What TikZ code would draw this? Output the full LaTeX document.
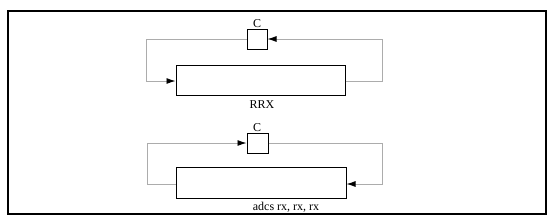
\documentclass[tikz,border=0pt]{standalone}
\usepackage{fontspec}
\setmainfont{Liberation Serif}
\usetikzlibrary{arrows.meta}
\begin{document}
\begin{tikzpicture}[x=1pt,y=-1pt,
  blk/.style={draw=black,line width=1pt},
  wire/.style={draw=gray!65,line width=0.9pt},
  arr/.style={-{Latex[length=9pt,width=6pt,black]}},
  lbl/.style={font=\fontsize{12}{12}\selectfont,inner sep=0pt}]
\useasboundingbox (0,0) rectangle (556,223);
\draw[line width=1.3pt] (8,11) rectangle (546,214);
% top
\node[blk,minimum width=169pt,minimum height=30pt,inner sep=0pt] (A) at (260.5,80) {};
\node[blk,minimum width=20pt,minimum height=20pt,inner sep=0pt] (C1) at (257,39) {};
\node[lbl,anchor=south] (lc1) at (257,28) {C};
\node[lbl,anchor=north] (lrrx) at (262,100) {RRX};
\coordinate (a1) at (382,81);
\coordinate (a2) at (382,39);
\coordinate (a3) at (146,39);
\coordinate (a4) at (146,81);
\draw[wire,arr] (A.east |- a1) -- (a1) -- (a2) -- (C1.east);
\draw[wire,arr] (C1.west) -- (a3) -- (a4) -- (A.west |- a4);
% bottom
\node[blk,minimum width=170pt,minimum height=31pt,inner sep=0pt] (B) at (261,182.5) {};
\node[blk,minimum width=21pt,minimum height=20pt,inner sep=0pt] (C2) at (257.5,143) {};
\node[lbl,anchor=south] (lc2) at (257,132) {C};
\node[lbl,anchor=north] (ladcs) at (286,202) {adcs rx, rx, rx};
\coordinate (b1) at (147,184);
\coordinate (b2) at (147,143);
\coordinate (b3) at (382,143);
\coordinate (b4) at (382,184);
\draw[wire,arr] (B.west |- b1) -- (b1) -- (b2) -- (C2.west);
\draw[wire,arr] (C2.east) -- (b3) -- (b4) -- (B.east |- b4);
\end{tikzpicture}
\end{document}
